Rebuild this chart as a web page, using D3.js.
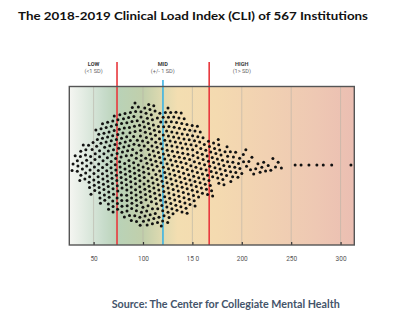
<!DOCTYPE html>
<html><head><meta charset="utf-8">
<script src="https://cdn.jsdelivr.net/npm/d3@7"></script>
<style>body{margin:0;background:#fff}svg{display:block}</style>
</head><body>
<script>
const titleText = "The 2018-2019 Clinical Load Index (CLI) of 567 Institutions";
const sourceText = "Source: The Center for Collegiate Mental Health";
const tickValues = [50, 100, 150, 200, 250, 300];
const tickLabels = ["50", "100", "15 0", "200", "250", "300"];
const bandNames = ["LOW", "MID", "HIGH"];
const bandNotes = ["(<1 SD)", "(+/- 1 SD)", "(1> SD)"];
const bandLabelAt = [50, 120, 200];
const sdLines = [73.7, 167];
const meanLine = 120.2;
const cli = [
29.4,30.6,32.3,
33.4,34.5,35.2,36.6,37.8,
38.3,39.1,40.2,40.9,41.7,42.6,
43.2,43.9,44.8,45.4,46.1,47.0,47.7,
48.1,48.7,49.3,49.8,50.5,51.0,51.6,52.2,52.8,
53.2,53.6,54.1,54.7,55.3,55.8,56.2,56.9,57.4,57.8,
58.1,58.5,58.9,59.3,59.8,60.1,60.6,61.0,61.3,61.8,62.2,62.5,62.9,
63.1,63.4,63.8,64.1,64.4,64.8,65.1,65.5,65.8,66.0,66.4,66.7,67.1,67.4,67.7,67.9,
68.1,68.3,68.6,68.9,69.2,69.4,69.7,70.0,70.3,70.5,70.8,71.1,71.3,71.6,71.8,72.1,72.4,72.6,72.9,
73.1,73.3,73.5,73.8,74.0,74.3,74.6,74.8,75.0,75.3,75.5,75.8,76.0,76.3,76.5,76.8,77.0,77.3,77.5,77.7,77.9,
78.1,78.3,78.5,78.7,79.0,79.2,79.4,79.7,79.9,80.1,80.4,80.6,80.8,81.0,81.3,81.5,81.7,82.0,82.2,82.4,82.6,82.9,
83.1,83.2,83.4,83.6,83.9,84.1,84.3,84.5,84.7,84.9,85.1,85.3,85.5,85.7,85.9,86.1,86.4,86.6,86.8,87.0,87.2,87.4,87.6,87.9,
88.0,88.2,88.4,88.6,88.8,89.0,89.2,89.4,89.5,89.7,89.9,90.1,90.3,90.5,90.7,90.9,91.1,91.3,91.5,91.7,91.9,92.1,92.3,92.5,92.7,92.9,
93.0,93.2,93.4,93.5,93.7,93.9,94.1,94.2,94.4,94.6,94.8,94.9,95.1,95.3,95.5,95.7,95.8,96.0,96.2,96.4,96.5,96.7,96.9,97.1,97.3,97.5,97.7,97.9,
98.0,98.2,98.3,98.5,98.7,98.8,99.0,99.2,99.3,99.5,99.7,99.9,100.0,100.2,100.4,100.5,100.7,100.9,101.1,101.2,101.4,101.6,101.8,101.9,102.1,102.3,102.5,102.7,102.9,
103.0,103.2,103.4,103.5,103.7,103.9,104.0,104.2,104.4,104.6,104.7,104.9,105.1,105.2,105.4,105.6,105.8,105.9,106.1,106.3,106.5,106.6,106.8,107.0,107.2,107.3,107.5,107.7,107.9,
108.1,108.3,108.4,108.6,108.8,109.0,109.2,109.3,109.5,109.7,109.9,110.1,110.3,110.4,110.6,110.8,111.0,111.2,111.4,111.6,111.7,111.9,112.1,112.3,112.5,112.7,112.9,
113.1,113.3,113.4,113.6,113.8,114.0,114.2,114.4,114.6,114.8,115.0,115.2,115.3,115.5,115.7,115.9,116.1,116.3,116.5,116.7,116.9,117.1,117.3,117.5,117.7,117.9,
118.1,118.3,118.5,118.7,118.9,119.1,119.3,119.5,119.7,119.9,120.1,120.3,120.5,120.7,120.9,121.1,121.3,121.5,121.7,121.9,122.1,122.3,122.5,122.7,122.9,
123.1,123.3,123.5,123.7,123.9,124.1,124.3,124.5,124.7,124.9,125.1,125.3,125.5,125.7,125.9,126.1,126.3,126.5,126.7,126.9,127.1,127.3,127.5,127.8,
128.1,128.3,128.6,128.8,129.0,129.2,129.5,129.7,129.9,130.2,130.4,130.6,130.9,131.1,131.3,131.6,131.8,132.0,132.2,132.4,132.6,132.9,
133.1,133.4,133.6,133.9,134.1,134.4,134.6,134.9,135.1,135.4,135.6,135.9,136.1,136.4,136.6,136.9,137.1,137.4,137.6,137.9,
138.1,138.4,138.7,139.0,139.2,139.5,139.8,140.1,140.4,140.6,140.9,141.2,141.5,141.8,142.0,142.3,142.6,142.9,
143.1,143.4,143.7,144.0,144.3,144.6,144.9,145.2,145.5,145.8,146.1,146.4,146.7,147.0,147.3,147.6,147.9,
148.2,148.5,148.8,149.2,149.5,149.8,150.2,150.5,150.8,151.2,151.5,151.8,152.2,152.5,152.8,
153.2,153.6,153.9,154.3,154.6,155.0,155.4,155.7,156.1,156.5,156.8,157.2,157.6,
158.2,158.7,159.2,159.7,160.2,160.7,161.2,161.7,162.2,162.7,
163.2,163.7,164.2,164.7,165.2,165.7,166.2,166.7,167.2,167.7,
168.3,168.8,169.4,169.9,170.5,171.0,171.6,172.1,172.7,
173.3,173.9,174.5,175.1,175.7,176.3,176.9,177.5,
178.4,179.0,179.7,180.4,181.1,181.8,182.5,
183.3,184.0,184.7,185.4,186.1,186.8,187.6,
188.4,189.2,190.0,190.8,191.6,192.4,
193.5,194.4,195.4,196.3,197.3,
198.6,199.8,201.0,202.3,
203.8,205.2,206.6,
208.7,210.1,211.8,
214.0,216.5,
218.6,220.3,222.1,
224.2,226.8,
229.1,231.5,
234.2,236.8,
240.1,
254,260,268,276,282.5,291,310.5
];
const bgStops = [
  [25, "#f5f6f2"], [45, "#dce8dd"], [60, "#c8dccb"], [75, "#b9d2b7"],
  [100, "#c1cfab"], [118, "#dcd9b0"], [135, "#f3deb1"], [175, "#f4dab0"],
  [225, "#f1d1b2"], [275, "#eec8b3"], [314, "#ebbeb2"]
];

(function () {
const W = 398, H = 322;
const pLeft = 69.3, pRight = 354.3, pTop = 86.5, pBottom = 245;
const cy = 165;
const svg = d3.select("body").append("svg").attr("width", W).attr("height", H);
const x = d3.scaleLinear().domain([25.4, 313.9]).range([pLeft, pRight]);

const defs = svg.append("defs");
const grad = defs.append("linearGradient").attr("id", "bg")
  .attr("gradientUnits", "userSpaceOnUse")
  .attr("x1", x(25.4)).attr("x2", x(313.9)).attr("y1", 0).attr("y2", 0);
grad.selectAll("stop").data(bgStops).join("stop")
  .attr("offset", d => Math.max(0, Math.min(1, (x(d[0]) - pLeft) / (pRight - pLeft))))
  .attr("stop-color", d => d[1]);

svg.append("rect").attr("x", pLeft).attr("y", pTop)
  .attr("width", pRight - pLeft).attr("height", pBottom - pTop).attr("fill", "url(#bg)");

svg.append("g").selectAll("line").data(tickValues).join("line")
  .attr("x1", d => x(d)).attr("x2", d => x(d)).attr("y1", pTop).attr("y2", pBottom)
  .attr("stroke", "#b8b3a6").attr("stroke-opacity", 0.6).attr("stroke-width", 1);

const axis = d3.axisBottom(x).tickValues(tickValues)
  .tickFormat((d, i) => tickLabels[i]).tickSizeInner(-3).tickSizeOuter(0).tickPadding(11);
const ag = svg.append("g").attr("transform", `translate(0,${pBottom})`).call(axis);
ag.select(".domain").remove();
ag.selectAll(".tick line").attr("stroke", "#333").attr("stroke-width", 1.2);
ag.selectAll(".tick text").attr("fill", "#555").attr("font-family", "Roboto, Arial, sans-serif")
  .attr("font-size", 6.5);

svg.append("g").selectAll("line").data(sdLines).join("line")
  .attr("x1", d => x(d)).attr("x2", d => x(d)).attr("y1", 62).attr("y2", pBottom)
  .attr("stroke", "#e8383d").attr("stroke-width", 1.6);
svg.append("line").attr("x1", x(meanLine)).attr("x2", x(meanLine)).attr("y1", 80).attr("y2", pBottom)
  .attr("stroke", "#3db3e3").attr("stroke-width", 1.6);

const rand = d3.randomLcg(0.42);
const nodes = cli.map(v => ({ v, x: x(v), y: cy + (rand() - 0.5) * (v > 245 ? 0 : 100) }));
const sim = d3.forceSimulation(nodes)
  .force("x", d3.forceX(d => x(d.v)).strength(0.9))
  .force("y", d3.forceY(cy).strength(d => d.v > 245 ? 0.6 : 0.035))
  .force("collide", d3.forceCollide(2.65).strength(0.8).iterations(2))
  .alphaDecay(1 - Math.pow(0.001, 1 / 250))
  .stop();
for (let i = 0; i < 250; i++) sim.tick();

svg.append("g").selectAll("circle").data(nodes).join("circle")
  .attr("cx", d => d.x).attr("cy", d => d.y).attr("r", 1.5).attr("fill", "#111");

svg.append("rect").attr("x", pLeft).attr("y", pTop)
  .attr("width", pRight - pLeft).attr("height", pBottom - pTop)
  .attr("fill", "none").attr("stroke", "#555").attr("stroke-width", 1.4);

const bl = svg.append("g").attr("text-anchor", "middle").attr("font-family", "Roboto, Arial, sans-serif");
bl.selectAll("text.n").data(bandNames).join("text").attr("class", "n")
  .attr("x", (d, i) => x(bandLabelAt[i])).attr("y", 65.6)
  .attr("font-size", 5.6).attr("font-weight", "bold").attr("fill", "#3a3a3a").text(d => d);
bl.selectAll("text.s").data(bandNotes).join("text").attr("class", "s")
  .attr("x", (d, i) => x(bandLabelAt[i])).attr("y", 73.4)
  .attr("font-size", 5.6).attr("fill", "#666").text(d => d);

svg.append("text").attr("x", 18).attr("y", 20)
  .attr("font-family", "Lato, 'Open Sans', sans-serif").attr("font-weight", "bold")
  .attr("font-size", 11.5).attr("fill", "#111")
  .attr("textLength", 350).attr("lengthAdjust", "spacingAndGlyphs").text(titleText);
svg.append("text").attr("x", 111.7).attr("y", 308)
  .attr("font-family", "Lato, 'Open Sans', sans-serif").attr("font-weight", "bold")
  .attr("font-size", 11).attr("fill", "#44546a")
  .attr("textLength", 228).attr("lengthAdjust", "spacingAndGlyphs").text(sourceText);
})();
</script>
</body></html>
